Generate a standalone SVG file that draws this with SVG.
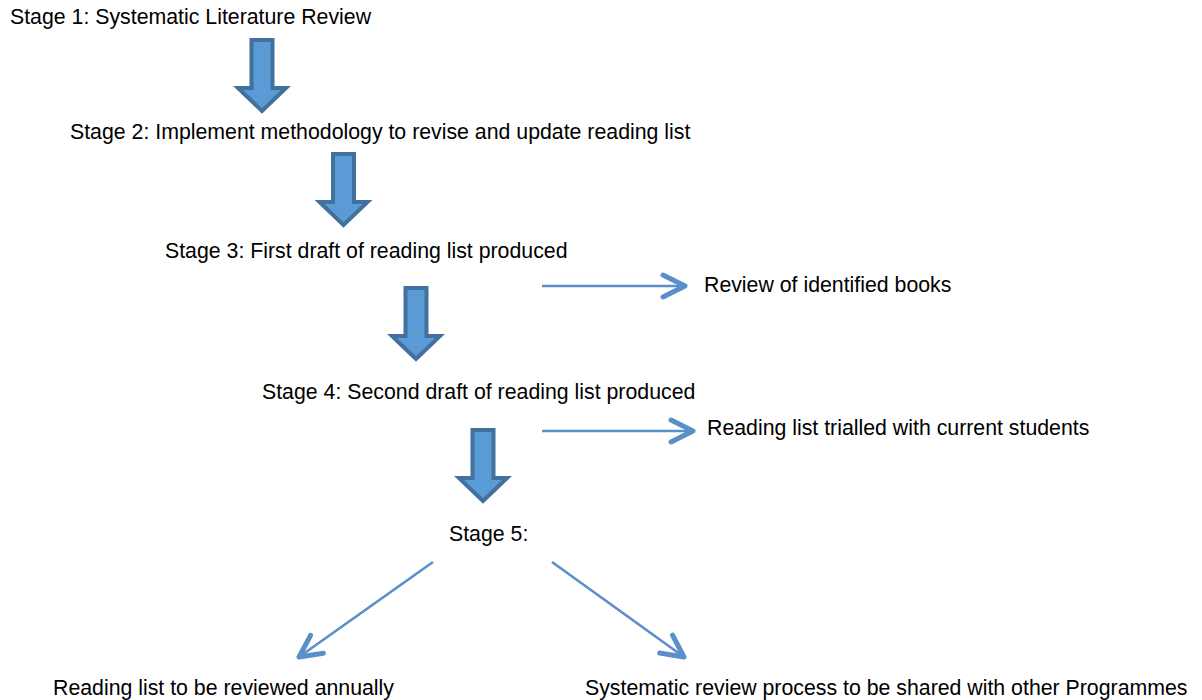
<svg xmlns="http://www.w3.org/2000/svg" width="1202" height="700" viewBox="0 0 1202 700">
<style>
text{font-family:"Liberation Sans",Arial,sans-serif;font-size:21.3px;fill:#000}
.blk{fill:#5b9bd5;stroke:#41719c;stroke-width:4;stroke-linejoin:miter}
.ln{stroke:#5a8fca;stroke-width:2.6;fill:none}
</style>
<defs>
<path id="blk" d="M-10.5,2 H10.5 V50 H24 L0,73 L-24,50 H-10.5 Z"/>
<marker id="chev" viewBox="0 0 30 30" refX="26" refY="15" markerWidth="30" markerHeight="30" markerUnits="userSpaceOnUse" orient="auto">
<path d="M4,4 L26,15 L4,26" fill="none" stroke="#5a8fca" stroke-width="5" stroke-linecap="round" stroke-linejoin="round"/>
</marker>
</defs>
<g id="connectors">
<use href="#blk" class="blk" transform="translate(262,38)"/>
<use href="#blk" class="blk" transform="translate(343.5,152)"/>
<use href="#blk" class="blk" transform="translate(416,286)"/>
<use href="#blk" class="blk" transform="translate(483,428)"/>
<line class="ln" x1="542" y1="286" x2="685" y2="286" marker-end="url(#chev)"/>
<line class="ln" x1="542" y1="431" x2="693" y2="431" marker-end="url(#chev)"/>
<line class="ln" x1="433" y1="562" x2="299" y2="657" marker-end="url(#chev)"/>
<line class="ln" x1="552" y1="562" x2="684" y2="657" marker-end="url(#chev)"/>
</g>
<g id="stage1"><text x="10" y="23.5">Stage 1: Systematic Literature Review</text></g>
<g id="stage2"><text x="70" y="138.5">Stage 2: Implement methodology to revise and update reading list</text></g>
<g id="stage3"><text x="165" y="257.5">Stage 3: First draft of reading list produced</text></g>
<g id="review"><text x="704" y="292">Review of identified books</text></g>
<g id="stage4"><text x="262" y="398.5">Stage 4: Second draft of reading list produced</text></g>
<g id="trial"><text x="707" y="435">Reading list trialled with current students</text></g>
<g id="stage5"><text x="449" y="541">Stage 5:</text></g>
<g id="annual"><text x="53" y="695">Reading list to be reviewed annually</text></g>
<g id="shared"><text x="585" y="695">Systematic review process to be shared with other Programmes</text></g>
</svg>
